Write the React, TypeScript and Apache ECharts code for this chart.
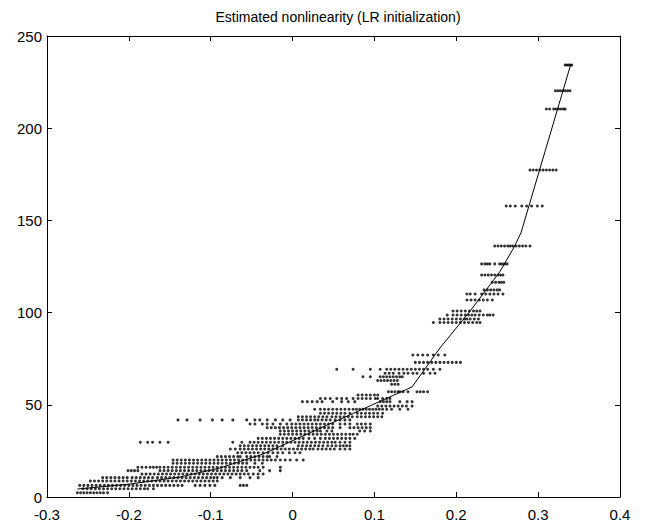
import React, { useEffect, useRef } from "react";
import * as echarts from "echarts";

const titleText = "Estimated nonlinearity (LR initialization)";
const xTicks = [-0.3, -0.2, -0.1, 0, 0.1, 0.2, 0.3, 0.4];
const yTicks = [0, 50, 100, 150, 200, 250];

// quantized output levels (y) and the x positions (in thousandths) of the dots on each level
const levels = [
  2.3, 4.5, 6.3, 8.7, 10.5, 12.5, 14.3, 16.1, 18.3, 20.1, 21.9, 24.0, 26.0, 27.8, 29.7,
  31.8, 34.0, 35.8, 37.6, 39.6, 41.8, 43.5, 45.4, 47.6, 49.3, 51.7, 53.4, 55.3, 57.1,
  61.1, 63.2, 65.2, 67.1, 69.3, 73.0, 77.0, 94.6, 96.5, 98.7, 100.9, 106.8, 110.1,
  112.3, 116.4, 120.4, 126.4, 136.1, 157.8, 177.3, 210.4, 220.3, 234.3,
];

const rowX: number[][] = [
  [-263, -259, -255, -251, -247, -243, -239, -235, -231, -226],
  [-256, -251, -246, -241, -236, -231, -226, -221, -216, -211, -206, -201, -196, -191, -186, -181, -177, -170],
  [-260, -255, -250, -245, -240, -235, -230, -225, -220, -215, -210, -205, -200, -195, -190, -185, -180, -175, -170, -165, -160, -155, -150, -145, -140, -135, -119, -113, -107, -101, -95, -64, -60, -56],
  [-247, -242, -237, -232, -227, -222, -217, -212, -207, -202, -197, -192, -187, -182, -177, -172, -167, -162, -157, -152, -147, -142, -137, -132, -127, -122, -117, -112, -107, -102, -97, -92],
  [-232, -227, -222, -217, -212, -207, -202, -196, -191, -186, -181, -176, -171, -165, -160, -155, -150, -145, -140, -135, -130, -125, -120, -115, -110, -105, -100, -96, -92, -86, -76, -64, -52, -42],
  [-184, -179, -174, -169, -164, -159, -154, -149, -144, -139, -134, -129, -124, -119, -114, -109, -104, -99, -94, -89, -84, -79, -74, -69, -64, -59, -54, -48, -42, -36],
  [-201, -197, -193, -189, -162, -157, -152, -147, -142, -137, -132, -127, -122, -117, -112, -107, -102, -97, -92, -87, -82, -77, -72, -67, -62, -56, -40, -28, -15],
  [-189, -184, -179, -174, -170, -166, -162, -157, -152, -147, -142, -137, -132, -127, -122, -117, -112, -107, -102, -97, -92, -87, -82, -77, -72, -67, -62, -57, -52, -47, -42, -36, -15],
  [-146, -141, -136, -131, -126, -121, -116, -111, -106, -101, -96, -91, -86, -81, -76, -71, -66, -61, -56, -46, -37],
  [-146, -141, -136, -131, -126, -121, -116, -111, -106, -101, -96, -91, -86, -81, -76, -71, -66, -61, -56, -51, -46, -41, -36, -31, -26, -21, -15, -9, -3, 5, 13],
  [-92, -87, -82, -77, -72, -67, -64, -56, -51, -46, -41, -36, -31, -28, -19],
  [-67, -62, -57, -52, -47, -42, -36, -30, -24, -18, -12, -4, 3, 9],
  [-76, -70, -64, -59, -54, -49, -44, -39, -34, -29, -24, -19, -14, -9, -4, 1, 6, 11, 16, 21, 25, 31, 36, 41, 46, 51, 58, 64, 70],
  [-64, -59, -54, -49, -44, -39, -34, -29, -24, -19, -12, 7, 12, 17, 22, 27, 32, 37, 43, 48, 53, 58, 62, 66, 70],
  [-186, -177, -171, -162, -152, -73, -62, -52, -47, -42, -37, -32, -27, -22, -17, -12, -7, -2, 3, 8, 13, 18, 23, 28, 33, 38, 43, 48, 52, 58, 64, 70],
  [-42, -37, -32, -27, -22, -17, -12, -7, -2, 3, 8, 13, 20, 27, 34, 40, 45, 50, 55, 60, 65, 70, 76],
  [-15, -10, -5, 0, 5, 10, 15, 20, 25, 30, 35, 40, 45, 50, 55, 60, 65, 70, 74, 79],
  [-15, -10, -5, 0, 5, 10, 15, 20, 25, 30, 34, 42, 48, 82, 88, 95],
  [-31, -26, -21, -16, -11, -6, -1, 4, 9, 14, 19, 24, 29, 34, 39, 44, 49, 58, 70, 75, 80, 85, 90, 95],
  [-52, -46, -37, -31, -24, -15, -7, -1, 4, 9, 14, 19, 24, 29, 34, 39, 44, 49, 58, 64, 70, 79, 84, 89, 95],
  [-140, -129, -113, -98, -86, -73, -56, -46, -40, -31, -21, -12, -3, 7, 12, 17, 22, 27, 31, 36, 41, 46, 52, 58, 64, 70],
  [7, 12, 17, 22, 27, 32, 37, 42, 48, 53, 58, 63, 68, 73, 79, 84, 89, 94, 99, 104, 109],
  [34, 39, 44, 49, 54, 59, 64, 70, 79, 84, 89, 94, 99, 104, 110],
  [27, 34, 39, 44, 49, 54, 59, 64, 69, 74, 78, 82, 86, 90, 94, 98, 102, 106, 110, 115, 121, 131, 141],
  [104, 109, 114, 119, 124, 129, 134, 139, 146],
  [12, 18, 24, 30, 36, 49, 60, 68, 76, 107, 111, 115, 119, 131, 140, 146],
  [34, 40, 46, 54, 60, 66, 74, 80, 85, 90, 95, 101, 104, 110, 115, 119],
  [80, 85, 90, 95, 100, 104],
  [117, 121, 125, 129, 131, 135, 141, 152, 156, 160, 165],
  [121, 125, 129],
  [104, 108, 112, 116, 120, 124, 128],
  [86, 95, 107, 111, 115, 119, 123, 127, 131, 134],
  [113, 118, 123, 130, 136, 141, 147, 152, 160, 168, 174],
  [54, 74, 95, 107, 115, 120, 125, 130, 135, 140, 145, 150, 155, 160, 165, 172, 180],
  [150, 155, 160, 165, 170, 175, 180, 185, 190, 195, 200, 205],
  [147, 153, 159, 165, 172, 178, 186],
  [172, 180, 185, 190, 195, 200, 205, 210, 215, 220, 225, 229],
  [180, 185, 190, 195, 200, 205, 210, 213, 217, 222, 227],
  [189, 196, 201, 206, 211, 215, 219, 223, 228, 233, 238, 241, 245],
  [196, 201, 206, 211, 216, 221, 225, 229],
  [213, 218, 223, 228, 233, 238, 244],
  [213, 217, 223, 231, 236, 241, 246, 251, 257],
  [234, 238, 242, 246, 250, 253],
  [244, 248, 252, 255, 258],
  [231, 235, 239, 243, 247, 251, 254, 257],
  [231, 235, 238, 241, 247, 253, 256, 259, 262],
  [247, 251, 255, 259, 263, 266, 269, 273, 277, 281, 285, 290],
  [261, 266, 272, 280, 286, 292, 299, 305],
  [290, 294, 298, 302, 306, 310, 314, 318, 322],
  [310, 314, 319, 322, 325, 328, 331, 333],
  [321, 324, 327, 330, 333, 336, 339],
  [333, 335, 337, 339, 341],
];

// estimated nonlinearity curve (breakpoints)
const lineX = [-0.263, -0.199, -0.138, -0.089, -0.036, 0.034, 0.07, 0.146, 0.18, 0.217, 0.253, 0.27, 0.279, 0.34];
const lineY = [4.3, 7.0, 10.8, 15.7, 23.3, 37.4, 44.5, 59.7, 80.8, 100.9, 122, 135, 143.2, 234.8];

const FONT = "'Liberation Sans', Arial, Helvetica, sans-serif";

export default function App() {
  const ref = useRef<HTMLDivElement>(null);
  useEffect(() => {
    document.body.style.margin = "0";
    if (!ref.current) return;
    const chart = echarts.init(ref.current, null, { renderer: "svg" });

    const scatter: number[][] = [];
    levels.forEach((y, i) => {
      rowX[i].forEach((x) => scatter.push([x / 1000, y]));
    });
    const line = lineX.map((x, i) => [x, lineY[i]]);

    const fmtX = (v: number) => {
      const r = Math.round(v * 10) / 10;
      return r === 0 ? "0" : r.toFixed(1);
    };

    const xBase = {
      type: "value",
      min: xTicks[0],
      max: xTicks[xTicks.length - 1],
      interval: 0.1,
      axisLine: { show: true, onZero: false, lineStyle: { color: "#000", width: 1 } },
      axisTick: { show: true, inside: true, length: 5, lineStyle: { color: "#000" } },
      splitLine: { show: false },
    };
    const yBase = {
      type: "value",
      min: yTicks[0],
      max: yTicks[yTicks.length - 1],
      interval: 50,
      axisLine: { show: true, onZero: false, lineStyle: { color: "#000", width: 1 } },
      axisTick: { show: true, inside: true, length: 5, lineStyle: { color: "#000" } },
      splitLine: { show: false },
    };

    chart.setOption({
      animation: false,
      backgroundColor: "#fff",
      title: {
        text: titleText,
        left: 333,
        textAlign: "center",
        top: 5,
        textStyle: { fontFamily: FONT, fontSize: 14, fontWeight: "normal", color: "#000" },
      },
      grid: { left: 47, right: 29, top: 36, bottom: 32, containLabel: false },
      xAxis: [
        {
          ...xBase,
          position: "bottom",
          axisLabel: { show: true, margin: 10, color: "#000", fontSize: 15, fontFamily: FONT, formatter: fmtX },
        },
        { ...xBase, position: "top", axisLabel: { show: false } },
      ],
      yAxis: [
        {
          ...yBase,
          position: "left",
          axisLabel: { show: true, margin: 5, color: "#000", fontSize: 15, fontFamily: FONT },
        },
        { ...yBase, position: "right", axisLabel: { show: false } },
      ],
      series: [
        {
          type: "scatter",
          data: scatter,
          symbol: "circle",
          symbolSize: 3,
          itemStyle: { color: "#000" },
          silent: true,
        },
        {
          type: "line",
          data: line,
          symbol: "none",
          lineStyle: { color: "#000", width: 1 },
          silent: true,
        },
      ],
    });
    return () => chart.dispose();
  }, []);
  return <div ref={ref} style={{ width: 649, height: 529 }} />;
}
